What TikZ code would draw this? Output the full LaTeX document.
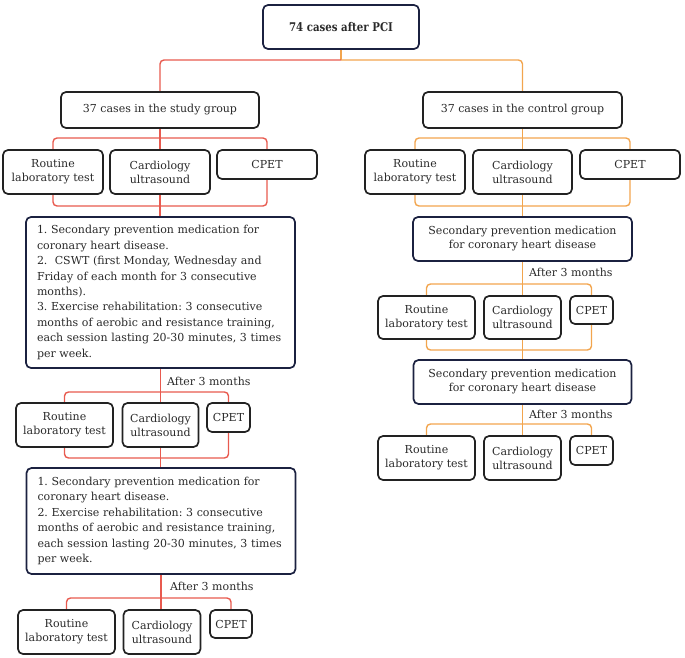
\documentclass[tikz,border=0pt]{standalone}
\usepackage{fontspec}
\setmainfont{DejaVu Serif}
\newfontfamily\titlefont{DejaVu Serif}[FakeStretch=0.85]
\definecolor{lred}{HTML}{E85A4F}
\definecolor{lorange}{HTML}{F2A54E}
\definecolor{navy}{HTML}{1B2140}
\definecolor{boxblack}{HTML}{222222}
\definecolor{txt}{HTML}{2A2A2A}
\pgfdeclarelayer{background}
\pgfsetlayers{background,main}
\frenchspacing
\begin{document}
\begin{tikzpicture}[x=1pt,y=-1pt,
  box/.style={draw=boxblack, line width=1.7pt, rounded corners=5pt, fill=white,
    inner sep=0pt, align=center, text=txt, font=\fontsize{11}{14}\selectfont},
  navybox/.style={box, draw=navy},
  rline/.style={draw=lred, line width=1.4pt, rounded corners=4pt},
  oline/.style={draw=lorange, line width=1.4pt, rounded corners=4pt},
  lbl/.style={anchor=west, inner sep=0pt, text=txt, font=\fontsize{11}{14}\selectfont},
  bigtext/.style={navybox, align=left, font=\fontsize{11}{15.4}\selectfont}]
\useasboundingbox (0,0) rectangle (685,658);
% helper coordinates
\coordinate (bus) at (0,60);
\coordinate (lt1) at (0,138); \coordinate (lb1) at (0,206);
\coordinate (rt1) at (0,138); \coordinate (rb1) at (0,206);
\coordinate (lt2) at (0,392); \coordinate (lb2) at (0,458);
\coordinate (lt3) at (0,598);
\coordinate (rt2) at (0,284); \coordinate (rb2) at (0,350);
\coordinate (rt3) at (0,424);
% ---- nodes ----
\path
 node[navybox, minimum width=156pt, minimum height=44pt] (top) at (341,27)
   {\fontsize{12}{14}\titlefont\bfseries 74 cases after PCI}
 node[box, minimum width=198pt, minimum height=36pt] (study) at (160,110) {37 cases in the study group}
 node[box, minimum width=199pt, minimum height=36pt] (control) at (522.5,110) {37 cases in the control group};
% left column
\path
 node[box, minimum width=100pt, minimum height=44pt] (l1r) at (53,172) {Routine\\laboratory test}
 node[box, minimum width=100pt, minimum height=44pt] (l1c) at (160,172) {Cardiology\\ultrasound}
 node[box, minimum width=100pt, minimum height=29pt] (l1p) at (267,164.5) {CPET}
 node[bigtext, text width=247pt, minimum width=269pt, minimum height=151pt] (lm1) at (160.5,292.5)
  {1. Secondary prevention medication for\\
   coronary heart disease.\\
   2.\ \ CSWT (first Monday, Wednesday and\\
   Friday of each month for 3 consecutive\\
   months).\\
   3. Exercise rehabilitation: 3 consecutive\\
   months of aerobic and resistance training,\\
   each session lasting 20-30 minutes, 3 times\\
   per week.}
 node[box, minimum width=97pt, minimum height=44pt] (l2r) at (64.5,425) {Routine\\laboratory test}
 node[box, minimum width=76pt, minimum height=44pt] (l2c) at (160.5,425) {Cardiology\\ultrasound}
 node[box, minimum width=43pt, minimum height=29pt] (l2p) at (228.5,417.5) {CPET}
 node[bigtext, text width=247pt, minimum width=269pt, minimum height=106pt] (lm2) at (161,521)
  {1. Secondary prevention medication for\\
   coronary heart disease.\\
   2. Exercise rehabilitation: 3 consecutive\\
   months of aerobic and resistance training,\\
   each session lasting 20-30 minutes, 3 times\\
   per week.}
 node[box, minimum width=97pt, minimum height=44pt] (l3r) at (66.5,632) {Routine\\laboratory test}
 node[box, minimum width=77pt, minimum height=44pt] (l3c) at (162,632) {Cardiology\\ultrasound}
 node[box, minimum width=42pt, minimum height=28pt] (l3p) at (231,624) {CPET}
 node[lbl] (la1) at (167,381) {After 3 months}
 node[lbl] (la2) at (170,586) {After 3 months};
% right column
\path
 node[box, minimum width=100pt, minimum height=44pt] (r1r) at (415,172) {Routine\\laboratory test}
 node[box, minimum width=99pt, minimum height=44pt] (r1c) at (522.5,172) {Cardiology\\ultrasound}
 node[box, minimum width=100pt, minimum height=29pt] (r1p) at (630,164.5) {CPET}
 node[navybox, minimum width=219pt, minimum height=44pt] (rm1) at (522.5,239)
   {Secondary prevention medication\\for coronary heart disease}
 node[box, minimum width=97pt, minimum height=43pt] (r2r) at (426.5,317.5) {Routine\\laboratory test}
 node[box, minimum width=77pt, minimum height=43pt] (r2c) at (522.5,317.5) {Cardiology\\ultrasound}
 node[box, minimum width=43pt, minimum height=28pt] (r2p) at (591.5,310) {CPET}
 node[navybox, minimum width=218pt, minimum height=44pt] (rm2) at (522.5,382)
   {Secondary prevention medication\\for coronary heart disease}
 node[box, minimum width=97pt, minimum height=44pt] (r3r) at (426.5,458) {Routine\\laboratory test}
 node[box, minimum width=77pt, minimum height=44pt] (r3c) at (522.5,458) {Cardiology\\ultrasound}
 node[box, minimum width=43pt, minimum height=29pt] (r3p) at (591.5,450.5) {CPET}
 node[lbl] (ra1) at (529,272) {After 3 months}
 node[lbl] (ra2) at (529,414) {After 3 months};
% ---- connectors behind the boxes ----
\begin{pgfonlayer}{background}
\draw[oline] (top.south) -- (top.south |- bus);
\draw[rline] (top.south |- bus) -| (study.north);
\draw[oline] (top.south |- bus) -| (control.north);
% left
\draw[rline] (study.south) -- (study.south |- lm1.north);
\draw[rline] (l1r |- lt1) rectangle (l1p |- lb1);
\draw[rline] (lm1.south) -- (lm1.south |- lm2.north);
\draw[rline] (l2r |- lt2) rectangle (l2p |- lb2);
\draw[rline] (lm2.south) -- (lm2.south |- l3c.north);
\draw[rline] (l3r.north) |- (l3c |- lt3) -| (l3p.north);
% right
\draw[oline] (control.south) -- (control.south |- rm1.north);
\draw[oline] (r1r |- rt1) rectangle (r1p |- rb1);
\draw[oline] (rm1.south) -- (rm1.south |- rm2.north);
\draw[oline] (r2r |- rt2) rectangle (r2p |- rb2);
\draw[oline] (rm2.south) -- (rm2.south |- r3c.north);
\draw[oline] (r3r.north) |- (r3c |- rt3) -| (r3p.north);
\end{pgfonlayer}
\end{tikzpicture}
\end{document}
